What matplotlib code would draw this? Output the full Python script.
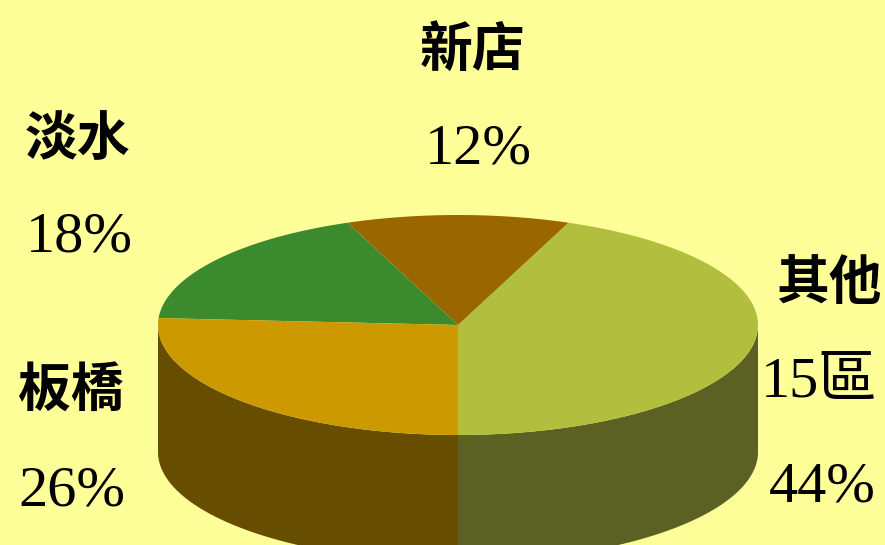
import numpy as np
import matplotlib
matplotlib.use("Agg")
from matplotlib import pyplot as plt
from matplotlib.patches import Polygon

# data (counter-clockwise from the bottom of the pie)
names = ["其他\n15區", "新店", "淡水", "板橋"]
shares = [44, 12, 18, 26]
top_colors = ["#B2BE3E", "#996600", "#3C8A2E", "#CC9900"]
side_colors = ["#5A6122", "#4D3300", "#1E4517", "#664D00"]

# label placement (pixel centres)
name_pos = [(829, 283), (472, 50), (77, 140), (71, 391)]
pct_pos = [(828, 488), (478, 149), (79, 238), (72, 492)]

cx, cy = 458, 325      # centre of top ellipse
rx, ry = 300, 110      # radii
depth = 127            # height of the cylinder wall

plt.rcParams['font.family'] = ['Noto Sans CJK TC', 'DejaVu Sans']
num_font = dict(family=["Liberation Serif", "Noto Sans CJK TC"], fontsize=42)

fig = plt.figure(figsize=(8.85, 5.45), dpi=100, facecolor="#FFFF99")
ax = fig.add_axes([0, 0, 1, 1])
ax.set_facecolor("#FFFF99")
ax.set_xlim(0, 885)
ax.set_ylim(545, 0)
ax.axis("off")


def arc(a0, a1, n=120):
    t = np.radians(np.linspace(a0, a1, n))
    return cx + rx * np.cos(t), cy - ry * np.sin(t)


edges = -90 + np.concatenate([[0], np.cumsum(shares)]) / sum(shares) * 360

# wall: only the front half (180..360 deg) is visible
for i in range(len(shares)):
    a0, a1 = edges[i], edges[i + 1]
    for lo, hi in [(-180, 0), (180, 360)]:
        s, e = max(a0, lo), min(a1, hi)
        if e <= s:
            continue
        x, y = arc(s, e)
        pts = np.column_stack([np.r_[x, x[::-1]], np.r_[y, y[::-1] + depth]])
        ax.add_patch(Polygon(pts, closed=True, fc=side_colors[i], ec="none"))

# top surface
for i in range(len(shares)):
    x, y = arc(edges[i], edges[i + 1])
    pts = np.column_stack([np.r_[cx, x], np.r_[cy, y]])
    ax.add_patch(Polygon(pts, closed=True, fc=top_colors[i], ec="none"))

for i in range(len(shares)):
    lines = names[i].split("\n")
    ax.text(name_pos[i][0], name_pos[i][1], lines[0], ha="center", va="center",
            fontsize=38, fontweight="bold")
    if len(lines) > 1:
        ax.text(878, 383, lines[1], ha="right", va="center", **num_font)
        ax.text(876, pct_pos[i][1], f"{shares[i]}%", ha="right",
                va="center", **num_font)
    else:
        ax.text(pct_pos[i][0], pct_pos[i][1], f"{shares[i]}%", ha="center",
                va="center", **num_font)

fig.savefig("out.png", dpi=100, facecolor=fig.get_facecolor())
